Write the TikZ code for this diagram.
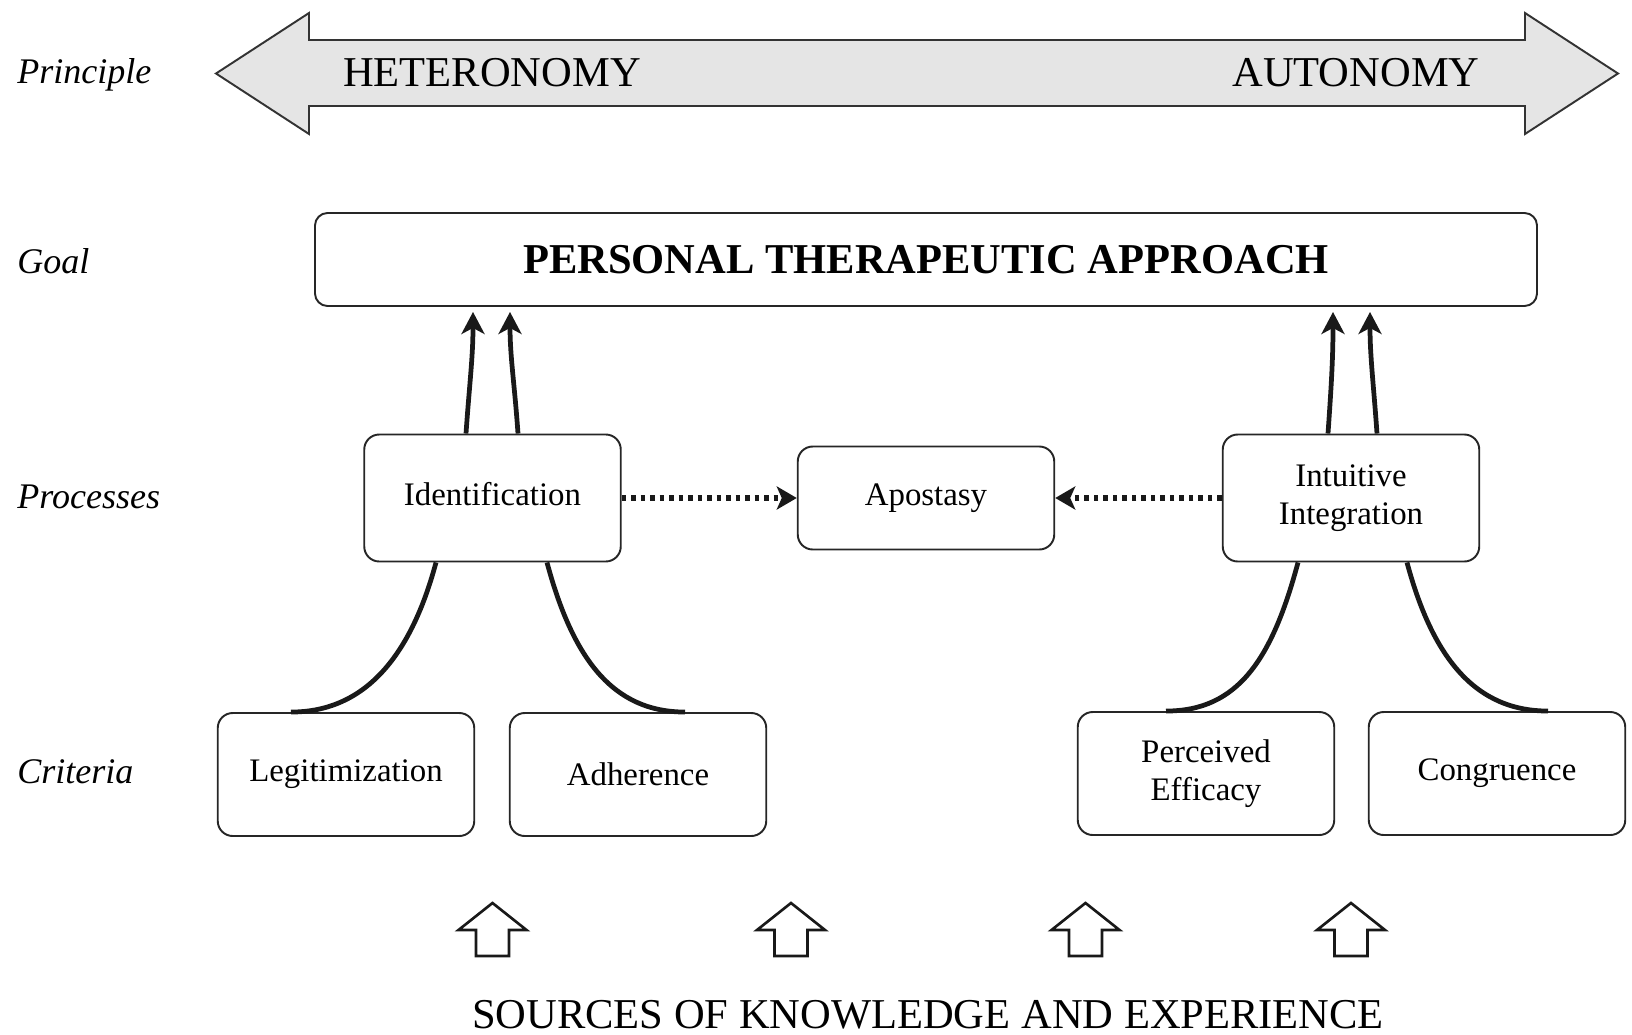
\documentclass[tikz,border=0pt]{standalone}
\usepackage{fontspec}
\setmainfont{Liberation Serif}
\usetikzlibrary{arrows.meta}
\newcommand{\boxtxt}{\fontsize{18.7}{21.6}\selectfont}
\newcommand{\bigtxt}{\fontsize{24.2}{28}\selectfont}
\newcommand{\rowtxt}{\fontsize{20.5}{24}\selectfont\itshape}
\tikzset{box/.style={draw=black!85, line width=1.1pt, rounded corners=0.3cm,
    align=center, inner sep=0pt, font=\boxtxt,
    minimum width=5.13cm, minimum height=2.46cm},
    rowlabel/.style={anchor=base west, inner sep=0pt, font=\rowtxt},
    link/.style={line width=2.7pt, black!90},
    uplink/.style={link, -{Stealth[length=0.44cm,width=0.46cm,inset=0.12cm]}, shorten >=0.1cm},
    dotlink/.style={line width=3pt, black!90, dash pattern=on 0.09cm off 0.1cm,
        -{Stealth[length=0.4cm,width=0.46cm,inset=0.1cm]}},
    srcarrow/.style={line width=1.5pt, black!90},
    }

\begin{document}
\begin{tikzpicture}
	\useasboundingbox (0,0) rectangle (32.64,-20.7);
	% principle
	\draw[line width=1.1pt, draw=black!80, fill=black!10]
		(4.32,-1.47) -- (6.18,-0.26) -- (6.18,-0.80) -- (30.5,-0.80) -- (30.5,-0.26)
		-- (32.36,-1.47) -- (30.5,-2.68) -- (30.5,-2.12) -- (6.18,-2.12) -- (6.18,-2.68) -- cycle;
	\node[font=\bigtxt, inner sep=0pt] (hetero) at (9.84,-1.46) {HETERONOMY};
	\node[font=\bigtxt, inner sep=0pt] (auto) at (27.12,-1.46) {AUTONOMY};

	\node[rowlabel] (lprin) at (0.34,-1.68) {Principle};
	\node[rowlabel] (lgoal) at (0.34,-5.46) {Goal};
	\node[rowlabel] (lproc) at (0.34,-10.16) {Processes};
	\node[rowlabel] (lcrit) at (0.34,-15.66) {Criteria};

	\node[box, minimum width=24.44cm, minimum height=1.86cm, rounded corners=0.25cm,
		font=\bigtxt\bfseries] (goal) at (18.52,-5.19) {PERSONAL THERAPEUTIC APPROACH};

	\node[box, minimum height=2.54cm, text depth=0.5em] (ident) at (9.85,-9.96) {Identification};
	\node[box, minimum height=2.06cm] (apost) at (18.52,-9.96) {Apostasy};
	\node[box, minimum height=2.54cm] (intui) at (27.02,-9.96) {Intuitive\\Integration};

	\node[box] (legit) at (6.92,-15.49) {Legitimization};
	\node[box] (adher) at (12.76,-15.49) {Adherence};
	\node[box] (effic) at (24.12,-15.47) {Perceived\\Efficacy};
	\node[box] (congr) at (29.94,-15.47) {Congruence};

	\draw[uplink] ([xshift=-0.53cm]ident.north)..controls +(86:1) and +(south:1)..([xshift=-9.06cm]goal.south);
	\draw[uplink] ([xshift=0.51cm]ident.north)..controls +(94:1) and +(south:1)..([xshift=-8.32cm]goal.south);
	\draw[uplink] ([xshift=-0.46cm]intui.north)..controls +(86:1) and +(south:1)..([xshift=8.14cm]goal.south);
	\draw[uplink] ([xshift=0.52cm]intui.north)..controls +(94:1) and +(south:1)..([xshift=8.88cm]goal.south);

	\draw[link] ([xshift=-1.13cm]ident.south)..controls +(-105:2) and +(east:1.44)..([xshift=-1.1cm]legit.north);
	\draw[link] ([xshift=1.09cm]ident.south)..controls +(-75:2) and +(west:1.44)..([xshift=0.94cm]adher.north);
	\draw[link] ([xshift=-1.06cm]intui.south)..controls +(-105:2) and +(east:1.44)..([xshift=-0.8cm]effic.north);
	\draw[link] ([xshift=1.12cm]intui.south)..controls +(-75:2) and +(west:1.44)..([xshift=1.02cm]congr.north);

	\draw[dotlink] (ident.east) -- (apost.west);
	\draw[dotlink] (intui.west) -- (apost.east);

	% sources
	\foreach \x in {9.85,15.82,21.71,27.02}
		\draw[srcarrow] (\x-0.33,-19.12) -- (\x-0.33,-18.6) -- (\x-0.68,-18.6) -- (\x,-18.06)
			-- (\x+0.68,-18.6) -- (\x+0.33,-18.6) -- (\x+0.33,-19.12) -- cycle;
	\node[font=\bigtxt, inner sep=0pt] (source) at (18.56,-20.3) {SOURCES OF KNOWLEDGE AND EXPERIENCE};
\end{tikzpicture}
\end{document}
